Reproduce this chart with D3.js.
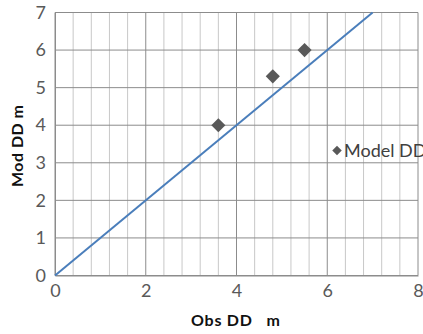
<!DOCTYPE html>
<meta charset="utf-8">
<style>
  body { margin: 0; background: #fff; }
  .tick text { fill: #595959; font-size: 18px; font-family: Lato, sans-serif; }
  .title { font-family: Lato, sans-serif; font-weight: bold; font-size: 16px; fill: #111; }
  .legend { font-family: Lato, sans-serif; font-size: 18px; fill: #404040; }
</style>
<body>
<svg width="423" height="334"></svg>
<script src="https://d3js.org/d3.v7.min.js"></script>
<script>
var obsDD = [3.6, 4.8, 5.5];
var modDD = [4.0, 5.3, 6.0];
var lineX = [0, 7];
var xTicks = [0, 2, 4, 6, 8];
var yTicks = [0, 1, 2, 3, 4, 5, 6, 7];

var svg = d3.select("svg");
var mLeft = 55, mRight = 418, mTop = 12.5, mBottom = 275.5;

var x = d3.scaleLinear().domain([0, 8]).range([mLeft, mRight]);
var y = d3.scaleLinear().domain([0, 7]).range([mBottom, mTop]);

// minor vertical grid every 0.4
var minor = d3.range(0, 8.001, 0.4);
svg.append("g").selectAll("line")
    .data(minor)
    .enter().append("line")
    .attr("x1", function(d) { return x(d); })
    .attr("x2", function(d) { return x(d); })
    .attr("y1", mTop).attr("y2", mBottom)
    .attr("stroke", function(d) { return Math.abs(d / 2 - Math.round(d / 2)) < 1e-6 ? "#8c8c8c" : "#c8c8c8"; })
    .attr("stroke-width", 1);

svg.append("g").selectAll("line")
    .data(yTicks)
    .enter().append("line")
    .attr("x1", mLeft).attr("x2", mRight)
    .attr("y1", function(d) { return y(d); })
    .attr("y2", function(d) { return y(d); })
    .attr("stroke", "#8c8c8c")
    .attr("stroke-width", 1);

var xAxis = svg.append("g")
    .attr("transform", "translate(0," + mBottom + ")")
    .call(d3.axisBottom(x).tickValues(xTicks).tickSize(0).tickPadding(9).tickFormat(d3.format("d")));
xAxis.select(".domain").attr("stroke", "#8c8c8c");

var yAxis = svg.append("g")
    .attr("transform", "translate(" + mLeft + ",0)")
    .call(d3.axisLeft(y).tickValues(yTicks).tickSize(0).tickPadding(9).tickFormat(d3.format("d")));
yAxis.select(".domain").attr("stroke", "#8c8c8c");

// 1:1 line
svg.append("line")
    .attr("x1", x(lineX[0])).attr("y1", y(lineX[0]))
    .attr("x2", x(lineX[1])).attr("y2", y(lineX[1]))
    .attr("stroke", "#4a7ebb")
    .attr("stroke-width", 2);

var diamond = d3.symbol().type(d3.symbolSquare).size(100);
svg.append("g").selectAll("path")
    .data(obsDD)
    .enter().append("path")
    .attr("d", diamond)
    .attr("transform", function(d, i) { return "translate(" + x(d) + "," + y(modDD[i]) + ") rotate(45)"; })
    .attr("fill", "#595959");

// legend
var lg = svg.append("g").attr("transform", "translate(337,150.5)");
lg.append("path")
    .attr("d", d3.symbol().type(d3.symbolSquare).size(45))
    .attr("transform", "rotate(45)")
    .attr("fill", "#595959");
lg.append("text").attr("class", "legend").attr("x", 7).attr("y", 6.5).text("Model DD");

svg.append("text")
    .attr("class", "title")
    .attr("x", 191).attr("y", 326)
    .attr("textLength", 89)
    .attr("xml:space", "preserve")
    .text("Obs DD   m");

svg.append("text")
    .attr("class", "title")
    .attr("transform", "translate(23,146) rotate(-90)")
    .attr("text-anchor", "middle")
    .attr("textLength", 82)
    .text("Mod DD m");
</script>
</body>
